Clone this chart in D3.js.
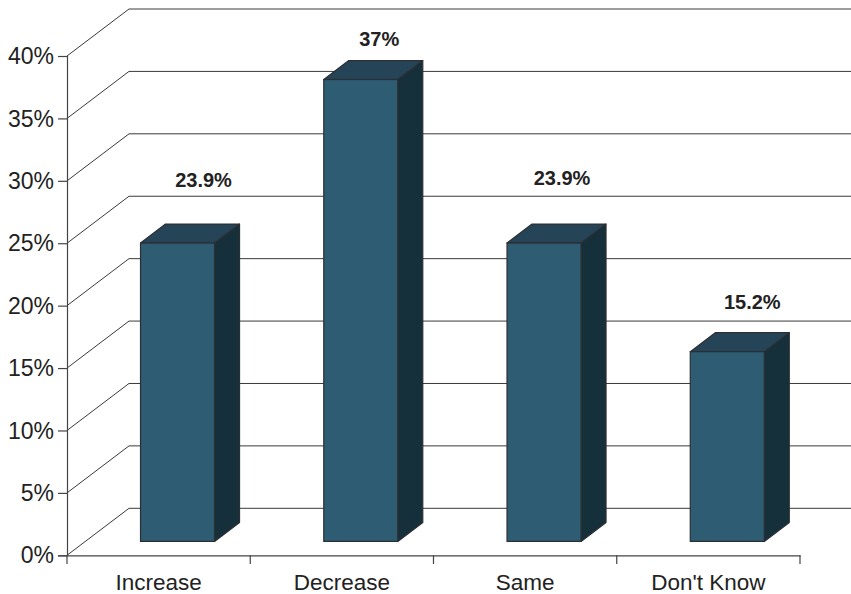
<!DOCTYPE html>
<html><head><meta charset="utf-8">
<script src="https://cdn.jsdelivr.net/npm/d3@7"></script>
<style>html,body{margin:0;padding:0;background:#fff}svg{display:block}text{font-family:"Liberation Sans",Arial,sans-serif}</style>
</head><body><svg id="c" width="851" height="594"></svg>
<script>
const categories = ["Increase","Decrease","Same","Don't Know"];
const values = [23.9,37,23.9,15.2];
const valueLabels = ["23.9%","37%","23.9%","15.2%"];
const yTicks = [0,5,10,15,20,25,30,35,40];

const labelNudgeX = [26,18.5,18,25];
const labelNudgeY = [-56,-33.5,-58,-42.5];
const svg = d3.select("#c");
const x = d3.scaleBand().domain(categories).range([67,800]);
const y = d3.scaleLinear().domain([0,40]).range([555.3,56]);
const depthX=62, depthY=-47, barW=74, barDX=25, barDY=-19, barFrontX=18.9, barFrontY=-13.9;
const AX="#444", LINE="#3a3a3a";

const g = svg.append("g");
yTicks.forEach(t=>{
  g.append("path").attr("fill","none").attr("stroke",LINE).attr("stroke-width",1)
   .attr("d",`M67,${y(t)}L${67+depthX},${y(t)+depthY}L851,${y(t)+depthY}`);
});
const yAxis = d3.axisLeft(y).tickValues(yTicks).tickSize(9).tickPadding(4).tickFormat(d=>d+"%");
const yg = svg.append("g").attr("transform","translate(67,0)").call(yAxis);
const xAxis = d3.axisBottom(x).tickValues([]).tickSizeOuter(0);
const xg = svg.append("g").attr("transform","translate(0,555.3)").call(xAxis);
[yg,xg].forEach(s=>s.selectAll("path,line").attr("stroke",AX).attr("stroke-width",1.2));
yg.selectAll("text").attr("font-size",23).attr("fill","#222").attr("dy","0.33em");
const edges = [...categories.map(c=>x(c)), x(categories[3])+x.bandwidth()];
svg.selectAll(".xt").data(edges).join("line").attr("class","xt")
  .attr("x1",d=>d).attr("x2",d=>d).attr("y1",555.3).attr("y2",564)
  .attr("stroke",AX).attr("stroke-width",1.2);
svg.selectAll(".xl").data(categories).join("text").attr("class","xl")
  .attr("x",d=>x(d)+x.bandwidth()/2).attr("y",590).attr("text-anchor","middle")
  .attr("font-size",22.5).attr("fill","#222").text(d=>d);
const bars = svg.selectAll(".bar").data(categories.map((c,i)=>({c,v:values[i],i}))).join("g").attr("class","bar");
const bx = d=>x(d.c)+x.bandwidth()/2+barFrontX-barW/2;
const by0 = y(0)+barFrontY;
const by = d=>y(d.v)+barFrontY;
const edge="#2b2f33";
bars.append("path").attr("fill","#16303b").attr("stroke",edge).attr("stroke-width",1.2).attr("stroke-linejoin","round")
  .attr("d",d=>`M${bx(d)+barW},${by(d)}l${barDX},${barDY}V${by0+barDY}l${-barDX},${-barDY}Z`);
bars.append("path").attr("fill","#264457").attr("stroke",edge).attr("stroke-width",1.2).attr("stroke-linejoin","round")
  .attr("d",d=>`M${bx(d)},${by(d)}l${barDX},${barDY}h${barW}l${-barDX},${-barDY}Z`);
bars.append("rect").attr("x",bx).attr("y",by).attr("width",barW).attr("height",d=>by0-by(d))
  .attr("fill","#2e5c73").attr("stroke",edge).attr("stroke-width",1.2);
bars.append("text").attr("x",d=>bx(d)+barW/2+labelNudgeX[d.i]).attr("y",d=>by(d)+labelNudgeY[d.i])
  .attr("text-anchor","middle").attr("font-size",20).attr("font-weight","bold").attr("fill","#222")
  .text(d=>valueLabels[d.i]);
</script></body></html>
